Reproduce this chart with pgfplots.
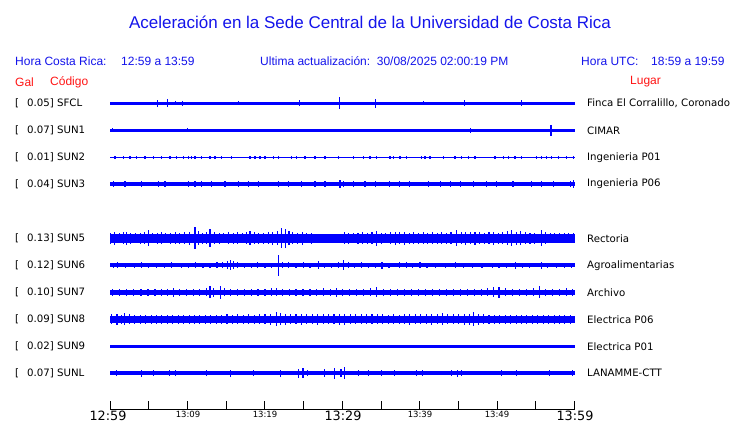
\documentclass[border=0pt]{standalone}
\usepackage{pgfplots}
\pgfplotsset{compat=1.18}
\usepackage{fontspec}
\setmainfont{DejaVu Sans}
\newfontfamily\hv{Liberation Sans}
\definecolor{tblue}{RGB}{20,20,235}
\definecolor{tred}{RGB}{255,20,20}

% one trace: baseline y (px), core width, bars "t a" (minutes, half height px)
\newcommand\trace[3]{%
  \addplot[blue, line width=#2, no marks] coordinates {(0,#1) (60,#1)};
  \addplot[draw=none, mark=none,
    error bars/.cd, y dir=both, y explicit, error mark=none,
    error bar style={draw=blue, line width=1.1pt}]
    table[row sep=\\, x=t, y expr=#1, y error=a] {#3};
}

\begin{document}
\begin{tikzpicture}
\path[use as bounding box, fill=white] (0,0) rectangle (740pt,423pt);
\begin{axis}[at={(0,0)}, anchor=south west, scale only axis,
  width=740pt, height=423pt,
  xmin=-14.1935, xmax=81.2903, ymin=0, ymax=423, y dir=reverse,
  hide axis, clip=false]

\trace{103.3}{2.9pt}{t a\\ 0.2 1.7\\ 1.9 1.7\\ 3.7 1.7\\ 5.4 1.7\\ 6.1 3.3\\ 7.4 4.2\\ 8.4 1.9\\ 9.4 2.6\\ 11 1.7\\ 12.3 1.7\\ 14.4 1.7\\ 16.6 1.9\\ 18.3 1.7\\ 20 1.7\\ 21.7 1.7\\ 23.4 1.7\\ 24.5 3\\ 26.9 1.7\\ 28.6 1.7\\ 29.6 6\\ 30.5 1.7\\ 32.3 1.7\\ 34.2 4.5\\ 36.6 1.7\\ 38.5 1.7\\ 40.4 1.9\\ 42.6 1.7\\ 45.7 3.2\\ 48.2 1.7\\ 51.2 1.7\\ 53.1 2.8\\ 55.5 1.7\\ 57.6 1.7\\ 59.8 1.7\\}

\trace{130.3}{2.9pt}{t a\\ 0.3 1.9\\ 1.5 1.7\\ 2.8 1.7\\ 4 1.7\\ 5.5 1.6\\ 7 1.6\\ 8.6 1.7\\ 10 1.9\\ 11.5 1.7\\ 13 1.7\\ 14.6 1.7\\ 16.2 1.7\\ 18 1.7\\ 19.6 1.6\\ 21.2 1.7\\ 23 1.7\\ 24.6 1.6\\ 26.2 1.7\\ 28 1.6\\ 29.6 1.7\\ 31.5 1.7\\ 33 1.7\\ 35 1.6\\ 37 1.7\\ 39 1.7\\ 41 1.7\\ 43 1.6\\ 44.5 1.7\\ 46.5 2.3\\ 48.5 1.7\\ 50.5 1.7\\ 52.5 1.7\\ 54.5 1.7\\ 56.9 5.5\\ 58.5 1.7\\ 59.7 1.7\\}

\trace{157.3}{1pt}{t a\\ 0.65 1.3\\ 1.72 1.8\\ 2.58 1.3\\ 3.44 1.3\\ 4.52 1.3\\ 5.59 1.3\\ 6.67 1.3\\ 7.74 1.3\\ 8.6 1.3\\ 9.46 1.3\\ 10.1 1.3\\ 10.54 1.3\\ 10.97 1.3\\ 11.83 1.3\\ 12.9 1.3\\ 13.55 1.3\\ 14.41 1.3\\ 15.7 1.3\\ 18.06 1.3\\ 18.71 1.3\\ 19.35 1.3\\ 20 1.3\\ 21.07 1.3\\ 21.72 1.3\\ 23.44 1.3\\ 24.09 1.3\\ 25.16 1.3\\ 26.45 1.3\\ 27.74 1.3\\ 29.46 1.3\\ 31.4 1.3\\ 32.69 1.3\\ 33.55 1.3\\ 34.41 1.3\\ 36.13 1.3\\ 36.56 1.3\\ 37.42 1.3\\ 38.28 1.3\\ 40.22 1.3\\ 40.65 1.3\\ 41.29 1.3\\ 43.01 1.3\\ 44.52 1.3\\ 45.38 1.3\\ 46.24 1.3\\ 47.1 1.3\\ 49.68 1.3\\ 50.75 1.3\\ 51.4 1.3\\ 52.26 1.3\\ 53.12 1.3\\ 55.06 1.3\\ 55.7 1.3\\ 56.35 1.3\\ 57 1.3\\ 57.85 1.3\\ 58.93 1.3\\ 59.79 1.3\\}

\trace{184}{4pt}{t a\\ 0.43 2.8\\ 1.94 2.8\\ 4.09 2.8\\ 6.24 2.8\\ 7.1 2.8\\ 10.1 2.8\\ 10.97 2.8\\ 11.83 2.8\\ 13.12 2.8\\ 14.84 2.8\\ 16.56 2.8\\ 17.85 2.8\\ 19.14 2.8\\ 21.72 2.8\\ 23 2.8\\ 24.73 2.8\\ 26.45 2.8\\ 27.74 2.8\\ 29.68 3.6\\ 30.1 3.4\\ 31.4 2.8\\ 32.9 2.8\\ 34.2 2.8\\ 36.1 2.8\\ 37.4 2.8\\ 38.7 2.8\\ 41.1 2.8\\ 42.6 2.8\\ 43.9 2.8\\ 45.2 2.8\\ 46.9 2.8\\ 48.6 2.8\\ 49.9 3.4\\ 52 2.8\\ 54.4 2.8\\ 55.7 3.4\\ 57.2 2.8\\ 59.4 2.8\\ 59.8 3.6\\}

\trace{238.3}{9pt}{t a\\ 0.1 5.5\\ 0.6 6.5\\ 1.2 5\\ 1.7 6\\ 2.15 6.8\\ 2.7 5.5\\ 3.3 5\\ 3.9 5.5\\ 4.4 6\\ 4.95 8\\ 5.5 5\\ 6.1 5.5\\ 6.7 6\\ 7.2 5\\ 7.8 5.5\\ 8.4 6\\ 9 5.5\\ 9.6 6\\ 10.2 6.5\\ 10.97 11\\ 11.4 7\\ 11.9 5.5\\ 12.4 6\\ 12.9 9\\ 13.5 6\\ 14.1 5.5\\ 14.7 5\\ 15.3 6\\ 15.9 5.5\\ 16.5 6\\ 17.1 5\\ 17.6 6\\ 18.06 7\\ 18.6 6\\ 19.2 5.5\\ 19.8 5.5\\ 20.4 6\\ 21 6.5\\ 21.6 7\\ 22.15 10\\ 22.6 9.5\\ 23.1 7\\ 23.6 6\\ 24.2 5.5\\ 24.8 6.5\\ 25.4 5\\ 26 5.5\\ 26.6 4.5\\ 27.2 4.5\\ 27.8 4.5\\ 28.4 4.5\\ 29 4.5\\ 29.6 4.5\\ 30.2 6\\ 30.8 5.5\\ 31.4 5\\ 32 5.5\\ 32.6 6\\ 33.2 5.5\\ 33.8 6\\ 34.4 7.5\\ 35 5.5\\ 35.6 5\\ 36.2 6\\ 36.8 6.5\\ 37.4 6\\ 38 6.5\\ 38.6 5.5\\ 39.2 6\\ 39.8 5.5\\ 40.4 6\\ 41 5.5\\ 41.6 6\\ 42.2 5.5\\ 42.8 6\\ 43.4 5.5\\ 44 6\\ 44.7 8\\ 45.3 6\\ 45.9 6.5\\ 46.5 6\\ 47.1 6.5\\ 47.7 6\\ 48.3 5.5\\ 48.9 6\\ 49.5 6.5\\ 50.1 5.5\\ 50.7 6\\ 51.3 7\\ 51.8 8\\ 52.4 6.5\\ 53 7\\ 53.6 6\\ 54.2 5.5\\ 54.8 5.5\\ 55.7 8\\ 56.2 6\\ 56.8 5\\ 57.4 5\\ 58 5\\ 58.6 5\\ 59.2 5\\ 59.8 5\\}

\trace{265.3}{4pt}{t a\\ 0.4 2.7\\ 1 3\\ 2 2.7\\ 3.2 2.7\\ 4.1 3\\ 5 2.7\\ 6 2.7\\ 7 2.7\\ 7.9 3\\ 9.2 2.7\\ 10.1 2.7\\ 11 3\\ 12 2.7\\ 12.9 2.7\\ 13.8 3\\ 14.5 3\\ 15.2 4\\ 15.5 5\\ 15.9 4\\ 16.4 3\\ 17.3 2.7\\ 18.2 2.7\\ 19 3\\ 20 2.7\\ 20.8 2.7\\ 21.72 10.3\\ 22.3 3\\ 23 3\\ 24 2.7\\ 25 3\\ 25.8 2.7\\ 26.9 4\\ 27.7 2.7\\ 28.6 2.7\\ 29.5 3\\ 30.1 5\\ 30.8 3\\ 31.6 2.7\\ 32.4 3\\ 33.3 2.7\\ 34.2 2.7\\ 35.1 3.5\\ 36 2.7\\ 37.4 3\\ 38.2 3\\ 39 2.7\\ 40 3\\ 40.9 2.7\\ 42 2.7\\ 43.3 2.7\\ 44.6 3\\ 45.6 2.7\\ 46.8 2.7\\ 48 2.7\\ 49.3 2.7\\ 50.2 2.7\\ 51.2 2.7\\ 52.3 3.8\\ 53.2 2.7\\ 54.1 2.7\\ 55.7 3.8\\ 56.5 2.7\\ 57.6 2.7\\ 58.6 2.7\\ 59.5 2.7\\}

\trace{292.3}{5.6pt}{t a\\ 0.3 3.7\\ 1.2 3.3\\ 2.1 3.7\\ 3 3.7\\ 4 3.7\\ 4.9 3.7\\ 5.8 3.7\\ 6.7 3.7\\ 7.4 3.7\\ 8.17 4.8\\ 9 3.7\\ 9.9 3.7\\ 10.8 3.7\\ 11.6 3.7\\ 12.4 4\\ 12.9 6\\ 13.4 4.5\\ 14.2 6.5\\ 14.8 4\\ 15.6 3.7\\ 16.5 3.7\\ 17.3 3.7\\ 18.2 3.7\\ 19.1 3.7\\ 20 3.7\\ 20.8 4\\ 21.5 4\\ 22.3 3.7\\ 23.2 3.7\\ 24 3.7\\ 24.9 3.7\\ 25.8 3.7\\ 26.7 3.7\\ 27.5 4\\ 28.4 3.7\\ 29.2 4.2\\ 30 3.7\\ 30.9 3.7\\ 31.8 3.7\\ 32.7 3.7\\ 33.6 4\\ 34.4 5\\ 35.3 3.7\\ 36.2 3.7\\ 37.1 3.7\\ 38 3.7\\ 38.9 3.7\\ 39.8 3.7\\ 40.7 3.7\\ 41.6 3.7\\ 42.5 3.7\\ 43.4 3.7\\ 44.3 3.7\\ 45.2 3.7\\ 46.1 3.7\\ 47 3.7\\ 47.9 3.7\\ 48.7 4\\ 49.5 5\\ 50.2 5.5\\ 51 4\\ 51.9 3.7\\ 52.8 3.7\\ 53.7 3.7\\ 54.6 4\\ 55.4 6\\ 56.2 3.7\\ 57.1 3.7\\ 58 3.7\\ 58.9 4\\ 59.7 3.7\\}

\trace{319.3}{7pt}{t a\\ 0.2 5\\ 0.9 5.5\\ 1.5 4.5\\ 1.9 6\\ 2.5 5\\ 3.2 4.5\\ 3.9 4.5\\ 4.6 4.2\\ 5.3 4.2\\ 6 4.5\\ 6.7 4.2\\ 7.4 4.5\\ 8.1 4.5\\ 8.8 4.2\\ 9.5 4.5\\ 10.2 4.2\\ 10.9 4.5\\ 11.6 4.2\\ 12.3 4.5\\ 13 4.5\\ 13.7 4.2\\ 14.4 4.5\\ 15.1 5\\ 15.8 4.5\\ 16.5 5\\ 17.2 4.5\\ 17.9 5\\ 18.6 4.5\\ 19.3 5\\ 20 5\\ 20.7 5.5\\ 21.5 7\\ 22 6\\ 22.6 5.5\\ 23.3 5\\ 24 5\\ 24.7 5.5\\ 25.4 5\\ 26.1 5\\ 26.8 5.5\\ 27.5 5\\ 28.2 5\\ 28.9 5\\ 29.6 5.5\\ 30.3 5.5\\ 31 5\\ 31.7 5\\ 32.4 5\\ 33.1 5\\ 33.8 5\\ 34.5 5\\ 35.2 5\\ 35.9 4.5\\ 36.6 5\\ 37.3 4.5\\ 38 5\\ 38.7 5.5\\ 39.4 5\\ 40.1 5\\ 40.8 5\\ 41.5 5.5\\ 42.2 5\\ 42.9 6\\ 43.6 5\\ 44.3 5\\ 45 5\\ 45.7 5.5\\ 46.4 5.5\\ 46.9 7\\ 47.5 5.5\\ 48.2 5\\ 48.9 4.5\\ 49.6 4.5\\ 50.3 4.5\\ 51 4.2\\ 51.7 4.5\\ 52.4 4.2\\ 53.1 4.5\\ 53.8 4.2\\ 54.5 4.5\\ 55.2 4.2\\ 55.9 4.5\\ 56.6 4.2\\ 57.3 4.5\\ 58 4.2\\ 58.7 4.5\\ 59.4 4.5\\}

\addplot[blue, line width=3.6pt, no marks] coordinates {(0,346.3) (60,346.3)};

\trace{373}{3.8pt}{t a\\ 0.85 3\\ 4.09 3.5\\ 5.6 3\\ 7.7 3\\ 8.4 3\\ 12.5 3\\ 15.5 3.5\\ 18.5 3\\ 22 3.5\\ 24.3 4.5\\ 24.9 5\\ 25.5 3\\ 27.7 4\\ 29 5.5\\ 29.8 4\\ 30.3 6\\ 32.1 3\\ 33.4 3\\ 35 2.7\\ 36.7 3\\ 39.5 3\\ 40.3 3\\ 44.1 3\\ 44.8 3.5\\ 45.3 3\\ 50.5 2.7\\ 52.5 2.7\\ 56.7 2.7\\ 59.7 2.7\\}

\end{axis}

% titles and headers (pt = px of the reference, y measured from bottom)
\node[tblue, font=\hv\fontsize{17}{20}\selectfont] at (370pt,401pt) {Aceleración en la Sede Central de la Universidad de Costa Rica};
\begin{scope}[every node/.style={anchor=west, inner sep=0pt, font=\hv\fontsize{12}{14}\selectfont}]
\node[tblue] at (15pt,362pt) {Hora Costa Rica:};
\node[tblue] at (121pt,362pt) {12:59 a 13:59};
\node[tblue] at (260pt,362pt) {Ultima actualización:\ \ 30/08/2025 02:00:19 PM};
\node[tblue] at (581pt,362pt) {Hora UTC:};
\node[tblue] at (651pt,362pt) {18:59 a 19:59};
\node[tred] at (15pt,341pt) {Gal};
\node[tred] at (50pt,341pt) {Código};
\node[tred] at (630pt,341pt) {Lugar};
\end{scope}

\begin{scope}[every node/.style={anchor=west, inner sep=0pt, font=\fontsize{10.2}{12}\selectfont}]
\foreach \py/\g/\c/\l in {103.3/0.05/SFCL/{Finca El Corralillo, Coronado},
  130.3/0.07/SUN1/CIMAR, 157.3/0.01/SUN2/Ingenieria P01, 184/0.04/SUN3/Ingenieria P06,
  238.3/0.13/SUN5/Rectoria, 265.3/0.12/SUN6/Agroalimentarias, 292.3/0.10/SUN7/Archivo,
  319.3/0.09/SUN8/Electrica P06, 346.3/0.02/SUN9/Electrica P01, 373/0.07/SUNL/LANAMME-CTT}{
  \node at (15pt,{423pt-\py pt}) {[};
  \node at (27pt,{423pt-\py pt}) {\g] \c};
  \node at (587pt,{423pt-\py pt}) {\l};
}
\end{scope}

% time axis
\draw[black, line width=0.8pt] (110pt,14pt) -- (574.5pt,14pt);
\foreach \i in {0,...,12} \draw[black, line width=0.8pt] ({110pt+\i*38.71pt},14pt) -- ++(0,8pt);
\begin{scope}[every node/.style={inner sep=0pt}]
\node[font=\fontsize{12.8}{14}\selectfont] at (108pt,7pt) {12:59};
\node[font=\fontsize{8.5}{10}\selectfont] at (188pt,8.5pt) {13:09};
\node[font=\fontsize{8.5}{10}\selectfont] at (265pt,8.5pt) {13:19};
\node[font=\fontsize{12.8}{14}\selectfont] at (343pt,7pt) {13:29};
\node[font=\fontsize{8.5}{10}\selectfont] at (420pt,8.5pt) {13:39};
\node[font=\fontsize{8.5}{10}\selectfont] at (497pt,8.5pt) {13:49};
\node[font=\fontsize{12.8}{14}\selectfont] at (575pt,7pt) {13:59};
\end{scope}
\end{tikzpicture}
\end{document}
